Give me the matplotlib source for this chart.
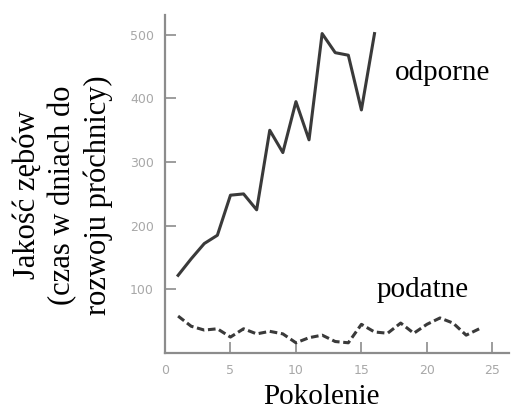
import numpy as np
import matplotlib
matplotlib.use("Agg")
import matplotlib.pyplot as plt

# Odporne (resistant) line, generations 1-16
gen_odporne = list(range(1, 17))
odporne = [122, 148, 172, 185, 248, 250, 225, 350, 315, 395, 335, 502, 472, 468, 382, 502]

# Podatne (susceptible) line, generations 1-24
gen_podatne = list(range(1, 25))
podatne = [58, 42, 36, 38, 25, 38, 30, 34, 30, 16, 24, 28, 18, 16, 45,
           33, 31, 47, 31, 45, 55, 47, 28, 38]

xticks = [0, 5, 10, 15, 20, 25]
yticks = [100, 200, 300, 400, 500]

serif = ["Liberation Serif", "DejaVu Serif"]
line_col = "#3a3a3a"
axis_col = "#8c8c8c"
tick_col = "#a8a8a8"

fig = plt.figure(figsize=(5.14, 4.09), dpi=100)
ax = fig.add_axes([0.321, 0.137, 0.67, 0.826])

ax.plot(gen_odporne, odporne, color=line_col, lw=2.2)
ax.plot(gen_podatne, podatne, color=line_col, lw=2.2, linestyle=(0, (2.5, 1.2)))

ax.set_xlim(0, 26.3)
ax.set_ylim(0, 531)
ax.set_xticks(xticks)
ax.set_yticks(yticks)
ax.tick_params(direction="in", length=8, width=1.2, color=axis_col,
               labelcolor=tick_col, labelsize=9, pad=8)
for s in ["top", "right"]:
    ax.spines[s].set_visible(False)
for s in ["left", "bottom"]:
    ax.spines[s].set_color(axis_col)
    ax.spines[s].set_linewidth(1.6)

ax.text(21.2, 440, "odporne", fontsize=21, family=serif, ha="center", va="center")
ax.text(19.7, 99, "podatne", fontsize=21, family=serif, ha="center", va="center")

fig.text(0.625, 0.03, "Pokolenie", fontsize=21, family=serif, ha="center", va="center")
fig.text(0.122, 0.523, "Jakość zębów\n(czas w dniach do\nrozwoju próchnicy)",
         fontsize=22, family=serif, rotation=90, ha="center", va="center",
         multialignment="center", linespacing=1.28)

fig.savefig("out.png", dpi=100)
